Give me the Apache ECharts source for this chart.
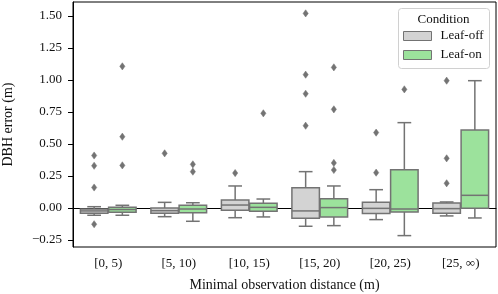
<!DOCTYPE html>
<html>
<head>
<meta charset="utf-8">
<script src="https://cdn.jsdelivr.net/npm/echarts@6/dist/echarts.min.js"></script>
<style>html,body{margin:0;padding:0;background:#fff}#c{width:498px;height:294px}</style>
</head>
<body>
<div id="c"></div>
<script>
const categories = ['[0, 5)', '[5, 10)', '[10, 15)', '[15, 20)', '[20, 25)', '[25, \u221e)'];
const yTicks = [-0.25, 0, 0.25, 0.5, 0.75, 1.0, 1.25, 1.5];
// [min whisker, Q1, median, Q3, max whisker]
const leafOffBox = [
  [-0.057, -0.041, -0.023, -0.008, 0.010],
  [-0.068, -0.041, -0.021, 0.000, 0.044],
  [-0.076, -0.018, 0.023, 0.062, 0.172],
  [-0.143, -0.080, -0.023, 0.159, 0.284],
  [-0.091, -0.044, -0.003, 0.044, 0.143],
  [-0.062, -0.041, -0.005, 0.039, 0.047]
];
const leafOnBox = [
  [-0.057, -0.034, -0.012, 0.005, 0.021],
  [-0.104, -0.037, -0.008, 0.021, 0.041],
  [-0.070, -0.026, 0.005, 0.037, 0.070],
  [-0.138, -0.070, 0.003, 0.073, 0.172],
  [-0.216, -0.031, -0.008, 0.299, 0.667],
  [-0.078, -0.003, 0.099, 0.609, 0.995]
];
// [category index, value]
const leafOffOutliers = [
  [0, 0.41], [0, 0.33], [0, 0.16], [0, -0.127],
  [1, 0.427],
  [2, 0.273],
  [3, 1.521], [3, 1.042], [3, 0.893], [3, 0.643],
  [4, 0.589], [4, 0.276],
  [5, 0.995], [5, 0.388], [5, 0.193]
];
const leafOnOutliers = [
  [0, 1.107], [0, 0.557], [0, 0.333],
  [1, 0.341], [1, 0.284],
  [2, 0.740],
  [3, 1.099], [3, 0.771], [3, 0.352], [3, 0.297],
  [4, 0.927]
];

const GRAY = '#737373';
const OFF_COLOR = '#d3d3d3';
const ON_COLOR = '#9ce29c';
const FONT = 'Liberation Serif';
const FS = 13;
const FS_NAME = 14;
const TXT = '#111';
const HUE_W = 0.39;

function boxRender(sign, fill) {
  return function (params, api) {
    const c = api.value(0);
    const band = api.size([1, 0])[0];
    const w = band * HUE_W;
    const cx = api.coord([c, 0])[0] + sign * band * 0.2;
    const y = v => api.coord([c, v])[1];
    const mn = y(api.value(1)), q1 = y(api.value(2)), md = y(api.value(3)), q3 = y(api.value(4)), mx = y(api.value(5));
    const ls = { stroke: GRAY, lineWidth: 1.5 };
    return {
      type: 'group',
      children: [
        { type: 'line', shape: { x1: cx, y1: mx, x2: cx, y2: q3 }, style: ls },
        { type: 'line', shape: { x1: cx, y1: q1, x2: cx, y2: mn }, style: ls },
        { type: 'line', shape: { x1: cx - w / 4, y1: mx, x2: cx + w / 4, y2: mx }, style: ls },
        { type: 'line', shape: { x1: cx - w / 4, y1: mn, x2: cx + w / 4, y2: mn }, style: ls },
        { type: 'rect', shape: { x: cx - w / 2, y: q3, width: w, height: q1 - q3 }, style: { fill: fill, stroke: GRAY, lineWidth: 1.5 } },
        { type: 'line', shape: { x1: cx - w / 2, y1: md, x2: cx + w / 2, y2: md }, style: ls }
      ]
    };
  };
}
function outlierRender(sign) {
  return function (params, api) {
    const c = api.value(0);
    const band = api.size([1, 0])[0];
    const p = api.coord([c, api.value(1)]);
    const cx = p[0] + sign * band * 0.2, cy = p[1];
    return {
      type: 'polygon',
      shape: { points: [[cx, cy - 3.6], [cx + 2.6, cy], [cx, cy + 3.6], [cx - 2.6, cy]] },
      style: { fill: GRAY, stroke: GRAY, lineWidth: 0.5 }
    };
  };
}

const chart = echarts.init(document.getElementById('c'), null, { renderer: 'canvas' });
chart.setOption({
  animation: false,
  textStyle: { fontFamily: FONT },
  grid: {
    left: 73, right: 2, top: 2, bottom: 47,
    containLabel: false, outerBoundsMode: 'none',
    show: true, borderColor: '#000', borderWidth: 1, backgroundColor: 'transparent'
  },
  xAxis: {
    type: 'category',
    data: categories,
    boundaryGap: true,
    name: 'Minimal observation distance (m)',
    nameLocation: 'middle',
    nameGap: 31,
    nameTextStyle: { fontFamily: FONT, fontSize: FS_NAME, color: TXT },
    axisLine: { lineStyle: { color: '#000', width: 1 } },
    axisTick: { alignWithLabel: true, length: 5, lineStyle: { color: '#000' } },
    axisLabel: { fontFamily: FONT, fontSize: FS, color: TXT, margin: 10 },
    splitLine: { show: false }
  },
  yAxis: {
    type: 'value',
    min: -0.305,
    max: 1.61,
    name: 'DBH error (m)',
    nameLocation: 'middle',
    nameGap: 58,
    nameTextStyle: { fontFamily: FONT, fontSize: FS_NAME, color: TXT },
    axisLine: { show: true, lineStyle: { color: '#000', width: 1 } },
    axisTick: { show: true, length: 5, lineStyle: { color: '#000' }, customValues: yTicks },
    axisLabel: {
      fontFamily: FONT, fontSize: FS, color: TXT, margin: 11,
      customValues: yTicks,
      formatter: v => (v < 0 ? '\u2212' : '') + Math.abs(v).toFixed(2)
    },
    splitLine: { show: false }
  },
  legend: {
    orient: 'vertical',
    left: 403,
    top: 29,
    padding: 0,
    itemGap: 5,
    itemWidth: 28,
    itemHeight: 9,
    textStyle: { fontFamily: FONT, fontSize: FS, lineHeight: 14, color: TXT, padding: [0, 0, 0, 4] },
    data: [
      { name: 'Leaf-off', icon: 'rect', itemStyle: { color: OFF_COLOR, borderColor: GRAY, borderWidth: 1 } },
      { name: 'Leaf-on', icon: 'rect', itemStyle: { color: ON_COLOR, borderColor: GRAY, borderWidth: 1 } }
    ],
    selectedMode: false
  },
  graphic: [
    { type: 'rect', left: 398, top: 8, shape: { width: 91, height: 60, r: 3 }, style: { fill: 'rgba(255,255,255,0.8)', stroke: '#d0d0d0', lineWidth: 1 }, z: 0 },
    { type: 'text', x: 443.5, y: 20, style: { text: 'Condition', font: FS + 'px "Liberation Serif"', fill: TXT, textAlign: 'center', textVerticalAlign: 'middle' }, z: 1 }
  ],
  series: [
    {
      name: 'Leaf-off', type: 'custom', itemStyle: { color: OFF_COLOR },
      renderItem: boxRender(-1, OFF_COLOR),
      encode: { x: 0, y: [1, 2, 3, 4, 5] },
      data: leafOffBox.map((b, i) => [i].concat(b))
    },
    {
      name: 'Leaf-on', type: 'custom', itemStyle: { color: ON_COLOR },
      renderItem: boxRender(1, ON_COLOR),
      encode: { x: 0, y: [1, 2, 3, 4, 5] },
      data: leafOnBox.map((b, i) => [i].concat(b))
    },
    {
      name: 'Leaf-off', type: 'custom', itemStyle: { color: OFF_COLOR },
      renderItem: outlierRender(-1),
      encode: { x: 0, y: 1 },
      data: leafOffOutliers
    },
    {
      name: 'Leaf-on', type: 'custom', itemStyle: { color: ON_COLOR },
      renderItem: outlierRender(1),
      encode: { x: 0, y: 1 },
      data: leafOnOutliers
    }
  ]
});
</script>
</body>
</html>
